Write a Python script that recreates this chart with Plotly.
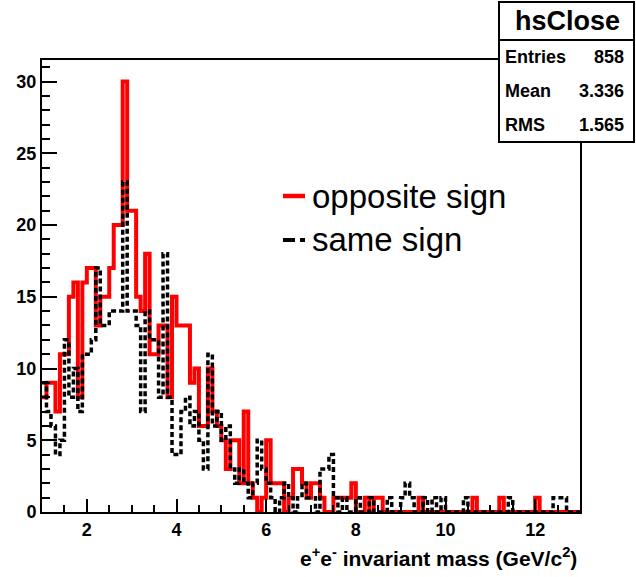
import numpy as np
import plotly.graph_objects as go

# ---- data -------------------------------------------------------------
bin_low = 1.0
bin_high = 13.0
n_bins = 120

opposite_sign = [
    8, 9, 9, 7, 11, 11, 15, 16, 8, 16,
    17, 17, 13, 15, 15, 17, 20, 20, 30, 21,
    21, 15, 14, 18, 11, 11, 13, 13, 8, 15,
    13, 13, 13, 9, 10, 6, 6, 10, 7, 6,
    5, 3, 5, 5, 2, 7, 2, 1, 0, 1,
    5, 2, 2, 2, 0, 1, 3, 3, 2, 1,
    2, 2, 1, 0, 0, 1, 1, 1, 1, 2,
    0, 0, 1, 0, 1, 1, 0, 0, 0, 0,
    0, 0, 0, 0, 1, 0, 0, 0, 0, 0,
    0, 0, 0, 0, 0, 0, 1, 0, 0, 0,
    0, 0, 1, 0, 0, 0, 0, 0, 0, 0,
    1, 0, 0, 0, 0, 0, 0, 0, 0, 0,
]

same_sign = [
    9, 7, 6, 4, 5, 12, 8, 10, 7, 11,
    11, 12, 17, 13, 13, 14, 14, 14, 23, 14,
    14, 13, 7, 14, 12, 12, 8, 18, 8, 4,
    4, 7, 8, 6, 7, 5, 3, 11, 6, 7,
    5, 6, 3, 2, 3, 2, 1, 2, 5, 3,
    2, 1, 0, 1, 2, 1, 0, 1, 2, 1,
    1, 0, 3, 3, 4, 1, 0, 1, 0, 0,
    1, 0, 0, 1, 0, 0, 0, 1, 0, 0,
    1, 2, 1, 0, 0, 1, 0, 1, 0, 1,
    0, 0, 0, 0, 1, 0, 0, 0, 0, 0,
    0, 0, 0, 0, 1, 0, 0, 0, 0, 0,
    0, 0, 0, 0, 1, 1, 1, 0, 0, 0,
]

stats_title = "hsClose"
stats_labels = ["Entries", "Mean", "RMS"]
stats_values = ["858", "3.336", "1.565"]
legend_labels = ["opposite sign", "same sign"]
x_title = "e<sup>+</sup>e<sup>-</sup> invariant mass (GeV/c<sup>2</sup>)"

# ---- figure -----------------------------------------------------------
edges = np.linspace(bin_low, bin_high, n_bins + 1)


def outline(vals):
    return list(edges), list(vals) + [vals[-1]]


W, H = 636, 577
L, R, T, B = 42, 56, 60, 65
pw, ph = W - L - R, H - T - B


def px(x):
    return (x - L) / pw


def py(y):
    return (H - B - y) / ph


FONT = "Liberation Sans, Arial, Helvetica, sans-serif"

fig = go.Figure()
xr, yr = outline(opposite_sign)
fig.add_trace(go.Scatter(x=xr, y=yr, mode="lines", line_shape="hv",
                         line=dict(color="#ff0000", width=4),
                         name=legend_labels[0], showlegend=False))
xb, yb = outline(same_sign)
fig.add_trace(go.Scatter(x=xb, y=yb, mode="lines", line_shape="hv",
                         line=dict(color="black", width=3.5, dash="5px,3px"),
                         name=legend_labels[1], showlegend=False))

axis_common = dict(
    ticks="inside", tickcolor="black", tickwidth=1.5,
    showline=True, linewidth=2, linecolor="black", mirror=True,
    showgrid=False, zeroline=False,
    tickfont=dict(size=18, color="black", family=FONT, weight="bold"),
)
fig.update_xaxes(range=[bin_low, bin_high], tick0=0, dtick=2, ticklen=13,
                 minor=dict(tick0=0, dtick=0.5, ticks="inside", ticklen=7,
                            tickwidth=1.5, tickcolor="black"),
                 **axis_common)
fig.update_yaxes(range=[0, 31.5], tick0=0, dtick=5, ticklen=15,
                 minor=dict(tick0=0, dtick=1, ticks="inside", ticklen=8,
                            tickwidth=1.5, tickcolor="black"),
                 **axis_common)

shapes = []
annotations = []

# stats box
bx0, bx1, by0, by1, bsep = 499, 634, 2, 142, 40
shapes.append(dict(type="rect", xref="paper", yref="paper", layer="above",
                   x0=px(bx0), x1=px(bx1), y0=py(by1), y1=py(by0),
                   fillcolor="white", line=dict(color="black", width=2)))
shapes.append(dict(type="line", xref="paper", yref="paper", layer="above",
                   x0=px(bx0), x1=px(bx1), y0=py(bsep), y1=py(bsep),
                   line=dict(color="black", width=2)))
annotations.append(dict(xref="paper", yref="paper", x=px(567), y=py(21),
                        text=f"<b>{stats_title}</b>", showarrow=False,
                        xanchor="center", yanchor="middle",
                        font=dict(size=27, color="black", family=FONT)))
for i, (lab, val) in enumerate(zip(stats_labels, stats_values)):
    yy = 57 + i * 34
    annotations.append(dict(xref="paper", yref="paper", x=px(503), y=py(yy),
                            text=f"<b>{lab}</b>", showarrow=False,
                            xanchor="left", yanchor="middle",
                            font=dict(size=18, color="black", family=FONT)))
    annotations.append(dict(xref="paper", yref="paper", x=px(626), y=py(yy),
                            text=f"<b>{val}</b>", showarrow=False,
                            xanchor="right", yanchor="middle",
                            font=dict(size=18, color="black", family=FONT)))

# legend (drawn by hand)
leg_y = [196, 240]
shapes.append(dict(type="line", xref="paper", yref="paper",
                   x0=px(283), x1=px(305), y0=py(leg_y[0]), y1=py(leg_y[0]),
                   line=dict(color="#ff0000", width=4.5)))
shapes.append(dict(type="line", xref="paper", yref="paper",
                   x0=px(283), x1=px(305), y0=py(leg_y[1]), y1=py(leg_y[1]),
                   line=dict(color="black", width=4, dash="12px,5px")))
for lab, yy in zip(legend_labels, leg_y):
    annotations.append(dict(xref="paper", yref="paper", x=px(310), y=py(yy),
                            text=lab, showarrow=False,
                            xanchor="left", yanchor="middle",
                            font=dict(size=33, color="black", family=FONT)))

# x-axis title
annotations.append(dict(xref="paper", yref="paper", x=px(579), y=py(557),
                        text=f"<b>{x_title}</b>", showarrow=False,
                        xanchor="right", yanchor="middle",
                        font=dict(size=21, color="black", family=FONT)))

fig.update_layout(width=W, height=H, margin=dict(l=L, r=R, t=T, b=B),
                  paper_bgcolor="white", plot_bgcolor="white",
                  showlegend=False, shapes=shapes, annotations=annotations)

fig.write_html("out.html", config={"displayModeBar": False},
               post_script="document.body.style.margin='0px';"
                           "document.body.style.overflow='hidden';")
